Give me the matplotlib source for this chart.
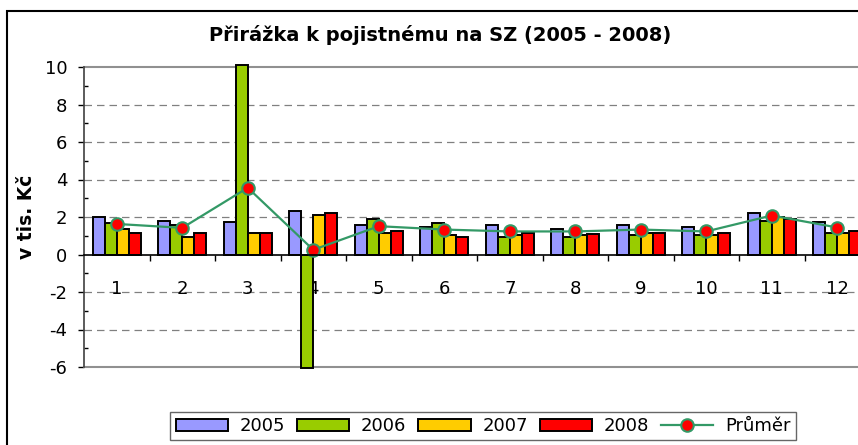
import numpy as np
import matplotlib
matplotlib.use("Agg")
import matplotlib.pyplot as plt
from matplotlib.patches import Rectangle
from matplotlib.ticker import MultipleLocator

plt.rcParams["font.family"] = ["DejaVu Sans"]
plt.rcParams["axes.unicode_minus"] = False

# ---------------------------------------------
# Data (v tis. Kč)
# ---------------------------------------------
months = ["1", "2", "3", "4", "5", "6", "7", "8", "9", "10", "11", "12"]
y2005 = [2.00, 1.81, 1.72, 2.33, 1.58, 1.48, 1.58, 1.37, 1.58, 1.48, 2.24, 1.71]
y2006 = [1.69, 1.58, 10.13, -6.04, 1.90, 1.69, 0.92, 0.92, 1.05, 1.05, 1.79, 1.16]
y2007 = [1.37, 0.92, 1.16, 2.12, 1.16, 1.05, 1.05, 1.05, 1.16, 1.05, 2.01, 1.16]
y2008 = [1.16, 1.16, 1.16, 2.22, 1.28, 0.92, 1.17, 1.12, 1.16, 1.16, 1.90, 1.28]
prumer = [1.63, 1.42, 3.56, 0.25, 1.51, 1.33, 1.23, 1.23, 1.33, 1.23, 2.08, 1.44]

series = [("2005", y2005, "#9999FF"),
          ("2006", y2006, "#99CC00"),
          ("2007", y2007, "#FFCC00"),
          ("2008", y2008, "#FF0000")]

# ---------------------------------------------
# Plot
# ---------------------------------------------
W, H = 858, 445
fig = plt.figure(figsize=(W / 100, H / 100), dpi=100)
ax = fig.add_axes([84 / W, 1 - 367 / H, (870 - 84) / W, 300 / H])

x = np.arange(1, len(months) + 1)
bw = 0.183
handles = []
for k, (name, vals, col) in enumerate(series):
    b = ax.bar(x + (k - 1.5) * bw, vals, bw, color=col, edgecolor="black",
               linewidth=1.4, label=name, zorder=3, clip_on=False)
    handles.append(b)

ln, = ax.plot(x, prumer, color="#339966", linewidth=1.6, marker="o",
              markersize=9, markerfacecolor="#FF0000", markeredgecolor="#339966",
              markeredgewidth=1.5, label="Průměr", zorder=4)
handles.append(ln)

ax.set_xlim(0.5, 12.5)
ax.set_ylim(-6, 10)

# grid lines
for g in [-4, -2, 2, 4, 6, 8]:
    ax.axhline(g, color="#808080", linestyle=(0, (6, 4)), linewidth=0.9, zorder=1)
ax.axhline(-6, color="#909090", linewidth=1.5, zorder=2, clip_on=False)

# spines
ax.spines["right"].set_visible(False)
ax.spines["top"].set_color("#909090")
ax.spines["top"].set_linewidth(1.5)
ax.spines["top"].set_zorder(2)
ax.spines["left"].set_color("#404040")
ax.spines["left"].set_linewidth(1.2)
ax.spines["bottom"].set_position(("data", 0))
ax.spines["bottom"].set_color("black")
ax.spines["bottom"].set_linewidth(1.2)
ax.spines["bottom"].set_zorder(5)

# y ticks
ax.yaxis.set_major_locator(MultipleLocator(2))
ax.yaxis.set_minor_locator(MultipleLocator(1))
ax.tick_params(axis="y", which="major", direction="out", length=4,
               width=1, labelsize=13, pad=8)
ax.tick_params(axis="y", which="minor", direction="in", length=3, width=1)

# x ticks: labels at centers, marks at boundaries
ax.set_xticks(x)
ax.set_xticklabels(months)
ax.set_xticks(np.arange(1.5, 12.5, 1), minor=True)
ax.tick_params(axis="x", which="major", length=0, labelsize=13, pad=18.5)
ax.tick_params(axis="x", which="minor", direction="out", length=4, width=1)

fig.text(440 / W, 1 - 35 / H, "Přirážka k pojistnému na SZ (2005 - 2008)",
         ha="center", va="center", fontsize=14, fontweight="bold")
fig.text(26 / W, 1 - 217 / H, "v tis. Kč", ha="center", va="center",
         rotation=90, fontsize=13.5, fontweight="bold")

leg = fig.legend(handles, [h.get_label() for h in handles], loc="center",
                 bbox_to_anchor=(483 / W, 1 - 426 / H), ncol=5,
                 fontsize=13, frameon=True, fancybox=False, handlelength=2.9,
                 handleheight=0.67, handletextpad=0.65, columnspacing=0.65,
                 borderpad=0.3, borderaxespad=0)
leg.get_frame().set_edgecolor("#404040")
leg.get_frame().set_linewidth(1.0)

# outer chart border
fig.patches.append(Rectangle((7 / W, -0.1), 1.2, 1 - 11 / H + 0.1,
                             transform=fig.transFigure, fill=False,
                             edgecolor="black", linewidth=1.5))

fig.savefig("out.png", dpi=100)
